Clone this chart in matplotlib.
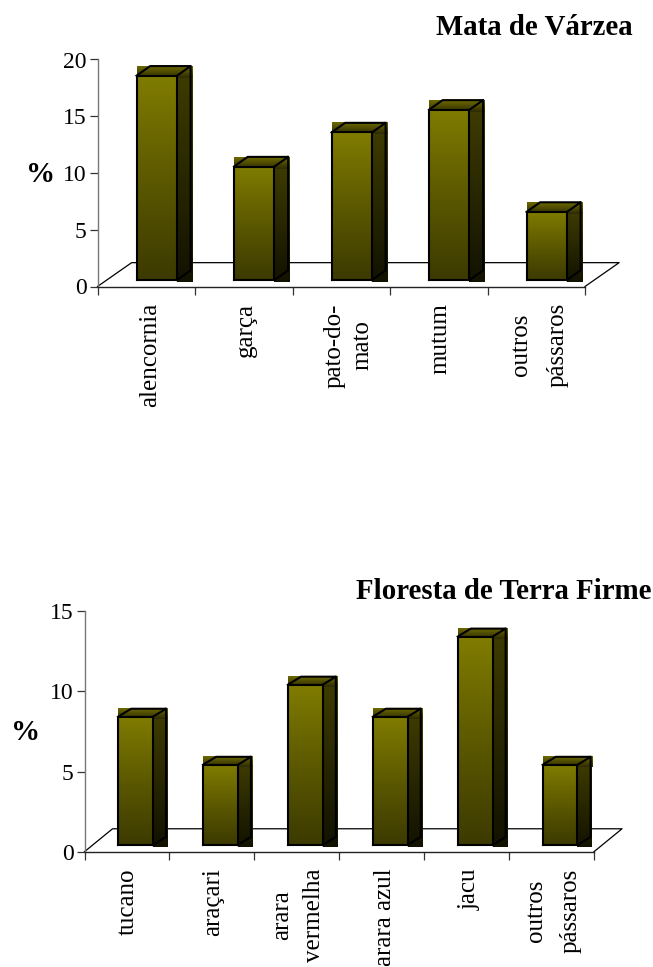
import numpy as np
import matplotlib
matplotlib.use("Agg")
import matplotlib.pyplot as plt
from matplotlib.colors import LinearSegmentedColormap

plt.rcParams["font.family"] = ["Liberation Serif", "DejaVu Serif"]

W, H = 653, 967

varzea_labels = ["alencornia", "garça", "pato-do-\nmato", "mutum", "outros\npássaros"]
varzea_values = [18, 10, 13, 15, 6]
varzea_ticks = [0, 5, 10, 15, 20]

firme_labels = ["tucano", "araçari", "arara\nvermelha", "arara azul", "jacu", "outros\npássaros"]
firme_values = [8, 5, 10, 8, 13, 5]
firme_ticks = [0, 5, 10, 15]

front_cm = LinearSegmentedColormap.from_list("front", ["#807c00", "#5c5900", "#3c3a00"])
side_cm = LinearSegmentedColormap.from_list("side", ["#3e3b00", "#121200"])
top_cm = LinearSegmentedColormap.from_list("top", ["#6e6a00", "#4e4b00", "#2c2a00"])
grad = np.linspace(0, 1, 128).reshape(-1, 1)


def fill(ax, cmap, x0, x1, y0, y1):
    ax.imshow(grad, cmap=cmap, extent=(x0, x1, y0, y1), origin="upper",
              aspect="auto", clip_on=False, zorder=3)


def draw_bar(ax, x, v, w, base, dx, dy, ux, uy):
    # ux, uy = size of one pixel in data units
    top = base + v
    fill(ax, side_cm, x + w, x + w + dx + 1.5 * ux, base - 2 * uy, top)
    fill(ax, top_cm, x, x + w + dx + 1.5 * ux, top - 2 * uy, top + dy)
    fill(ax, front_cm, x, x + w, base, top)
    black = dict(color="black", lw=1.5, clip_on=False, zorder=4, solid_joinstyle="miter")
    ax.plot([x, x + w, x + w, x, x], [base, base, top, top, base], **black)
    ax.plot([x, x + dx, x + w + dx, x + w], [top, top + dy, top + dy, top], **black)
    ax.plot([x + w + dx, x + w + dx, x + w], [top + dy, base + dy, base], **black)


def draw_chart(box, labels, values, yticks, ymax, bar_left, bar_w, base, dx, dy,
               floor_dx, floor_dy, label_pad, spacings, shifts):
    left, top, right, bottom = box
    ax = fig.add_axes([left / W, 1 - bottom / H, (right - left) / W, (bottom - top) / H])
    n = len(values)
    ux = n / (right - left)
    uy = ymax / (bottom - top)

    ax.plot([0, floor_dx, n + floor_dx, n], [0, floor_dy, floor_dy, 0],
            color="black", lw=0.9, clip_on=False, zorder=2)
    for i, v in enumerate(values):
        draw_bar(ax, i + bar_left, v, bar_w, base, dx, dy, ux, uy)

    ax.set_xlim(0, n)
    ax.set_ylim(0, ymax)
    ax.set_yticks(yticks)
    ax.set_xticks(np.arange(n + 1))
    ax.set_xticklabels([])
    # labels sit on minor ticks, a few px off centre like the original
    ax.set_xticks(np.arange(n) + 0.53 + np.array(shifts) * ux, labels=labels, minor=True,
                  rotation=90, fontsize=18, va="top", ha="center")
    for lab, sp in zip(ax.get_xticklabels(minor=True), spacings):
        lab.set_linespacing(sp)
    ax.tick_params(axis="x", which="minor", length=0, pad=label_pad)
    ax.tick_params(axis="x", which="major", length=6, width=0.9, color="#333333")
    ax.tick_params(axis="y", length=6, width=0.9, color="#333333", labelsize=17, pad=2)
    ax.spines["top"].set_visible(False)
    ax.spines["right"].set_visible(False)
    ax.spines["left"].set_color("#777777")
    ax.spines["left"].set_linewidth(1.0)
    ax.spines["bottom"].set_color("#222222")
    ax.spines["bottom"].set_linewidth(1.0)
    ax.patch.set_alpha(0)
    return ax


fig = plt.figure(figsize=(W / 100, H / 100), dpi=100, facecolor="white")

draw_chart((97.5, 59.5, 585, 286.5), varzea_labels, varzea_values, varzea_ticks, 20,
           0.40, 0.415, 0.57, 0.14, 0.85, 0.35, 2.1, 12,
           [1.2, 1.2, 1.35, 1.2, 1.85], [1, -1, 4, -1, 0.5])
draw_chart((84.5, 611.3, 594, 851.7), firme_labels, firme_values, firme_ticks, 15,
           0.395, 0.41, 0.42, 0.155, 0.5, 0.33, 1.43, 12,
           [1.2, 1.2, 1.6, 1.2, 1.2, 1.75], [-2, -1, -1, 1, 1, -1])

fig.text(633 / W, 1 - 35 / H, "Mata de Várzea", fontsize=20.8, fontweight="bold",
         ha="right", va="baseline")
fig.text(651 / W, 1 - 599 / H, "Floresta de Terra Firme", fontsize=20.8, fontweight="bold",
         ha="right", va="baseline")
fig.text(40.5 / W, 1 - 175 / H, "%", fontsize=21, fontweight="bold", ha="center", va="center")
fig.text(25.5 / W, 1 - 733 / H, "%", fontsize=21, fontweight="bold", ha="center", va="center")

fig.savefig("out.png", dpi=100)
